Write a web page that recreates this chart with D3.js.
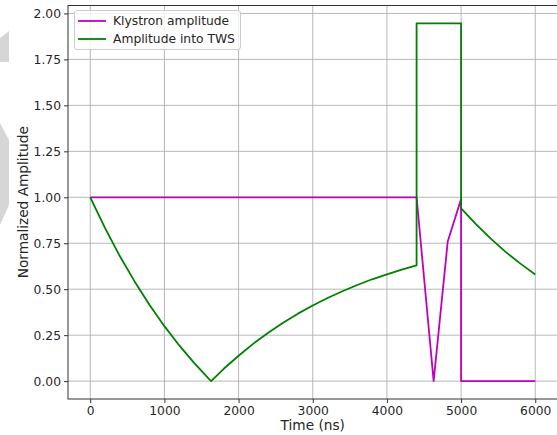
<!DOCTYPE html>
<html lang="en">
<head>
  <meta charset="UTF-8">
  <title>Klystron / TWS amplitude</title>
  <style>
    body{margin: 0; background: white;}
    svg{display: block; font-family: "DejaVu Sans", sans-serif;}
  </style>
</head>
<body>
  <div id="chart"></div>
  <script src="https://d3js.org/d3.v7.min.js"></script>
  <script>
  // DATA
  const klystronTime = [0, 4400, 4630, 4820, 5000, 5000, 6000];
  const klystronAmp  = [1.00, 1.00, 0.00, 0.76, 0.99, 0.00, 0.00];

  const twsTime = [0, 200, 400, 600, 800, 1000, 1200, 1400, 1600, 1630,
                   1800, 2000, 2200, 2400, 2600, 2800, 3000, 3200, 3400, 3600,
                   3800, 4000, 4200, 4400, 4400, 5000, 5000, 5200, 5400, 5600,
                   5800, 6000];
  const twsAmp  = [1.000, 0.832, 0.679, 0.541, 0.414, 0.299, 0.194, 0.099, 0.012, 0.000,
                   0.067, 0.138, 0.204, 0.263, 0.317, 0.367, 0.411, 0.452, 0.489, 0.523,
                   0.554, 0.581, 0.607, 0.630, 1.946, 1.946, 0.940, 0.854, 0.775, 0.703,
                   0.639, 0.580];

  const xTicks = [0, 1000, 2000, 3000, 4000, 5000, 6000];
  const yTicks = [0, 0.25, 0.5, 0.75, 1.0, 1.25, 1.5, 1.75, 2.0];
  const seriesNames = ["Klystron amplitude", "Amplitude into TWS"];

  // CONSTANTS
  const width = 557;
  const height = 435;
  const plot = {left: 68, top: 5.5, right: 557.5, bottom: 399};
  const cKly = "#bf00bf";
  const cTws = "#008000";
  const cGrid = "#b0b0b0";
  const cText = "#262626";

  const svg = d3.select("#chart").append("svg")
    .attr("width", width)
    .attr("height", height);

  // grey shapes at the left edge
  svg.append("polygon")
    .attr("points", "0,38 9,31 9,62 0,62")
    .attr("fill", "#d6d6d6");
  svg.append("polygon")
    .attr("points", "0,123 9,140 9,205 0,225")
    .attr("fill", "#d6d6d6");

  // SCALES
  const x = d3.scaleLinear().domain([-300, 6300]).range([plot.left, plot.right]);
  const y = d3.scaleLinear().domain([-0.0973, 2.0433]).range([plot.bottom, plot.top]);

  // GRID
  const grid = svg.append("g");
  grid.selectAll(".gx").data(xTicks).join("line")
    .attr("x1", d => x(d)).attr("x2", d => x(d))
    .attr("y1", plot.top).attr("y2", plot.bottom)
    .attr("stroke", cGrid).attr("stroke-width", 0.9);
  grid.selectAll(".gy").data(yTicks).join("line")
    .attr("x1", plot.left).attr("x2", plot.right)
    .attr("y1", d => y(d)).attr("y2", d => y(d))
    .attr("stroke", cGrid).attr("stroke-width", 0.9);

  // AXES
  const xAxis = svg.append("g")
    .attr("transform", `translate(0,${plot.bottom})`)
    .call(d3.axisBottom(x).tickValues(xTicks).tickFormat(d3.format("d")).tickSize(4).tickPadding(3));
  const yAxis = svg.append("g")
    .attr("transform", `translate(${plot.left},0)`)
    .call(d3.axisLeft(y).tickValues(yTicks).tickFormat(d3.format(".2f")).tickSize(4).tickPadding(3));
  [xAxis, yAxis].forEach(a => {
    a.select(".domain").remove();
    a.selectAll(".tick line").attr("stroke", "#333").attr("stroke-width", 1);
    a.selectAll(".tick text")
      .attr("fill", cText)
      .style("font-size", "12.3px")
      .style("font-family", "'DejaVu Sans', sans-serif");
  });

  // SPINES
  svg.append("rect")
    .attr("x", plot.left).attr("y", plot.top)
    .attr("width", plot.right - plot.left).attr("height", plot.bottom - plot.top)
    .attr("fill", "none").attr("stroke", "#333").attr("stroke-width", 1);

  // LINES
  const line = d3.line().x(d => x(d[0])).y(d => y(d[1]));
  const klyData = d3.zip(klystronTime, klystronAmp);
  const twsData = d3.zip(twsTime, twsAmp);

  svg.append("path")
    .datum(klyData)
    .attr("d", line)
    .attr("fill", "none")
    .attr("stroke", cKly)
    .attr("stroke-width", 1.8)
    .attr("stroke-linejoin", "round");
  svg.append("path")
    .datum(twsData)
    .attr("d", line)
    .attr("fill", "none")
    .attr("stroke", cTws)
    .attr("stroke-width", 1.8)
    .attr("stroke-linejoin", "round");

  // AXIS LABELS
  svg.append("text")
    .attr("x", (plot.left + plot.right) / 2)
    .attr("y", 430)
    .attr("text-anchor", "middle")
    .attr("fill", cText)
    .style("font-size", "13.7px")
    .text("Time (ns)");
  svg.append("text")
    .attr("transform", `translate(28,${(plot.top + plot.bottom) / 2}) rotate(-90)`)
    .attr("text-anchor", "middle")
    .attr("fill", cText)
    .style("font-size", "13.7px")
    .text("Normalized Amplitude");

  // LEGEND
  const legend = svg.append("g");
  legend.append("rect")
    .attr("x", 74.5).attr("y", 10.5)
    .attr("width", 166).attr("height", 39)
    .attr("rx", 2.5)
    .attr("fill", "white").attr("fill-opacity", 0.8)
    .attr("stroke", "#cccccc").attr("stroke-width", 1);
  const legendColors = [cKly, cTws];
  seriesNames.forEach((name, i) => {
    const ly = 21 + i * 18;
    legend.append("line")
      .attr("x1", 78).attr("x2", 106)
      .attr("y1", ly).attr("y2", ly)
      .attr("stroke", legendColors[i]).attr("stroke-width", 1.8);
    legend.append("text")
      .attr("x", 113).attr("y", ly + 4.4)
      .attr("fill", cText)
      .style("font-size", "12.3px")
      .text(name);
  });
  </script>
</body>
</html>
